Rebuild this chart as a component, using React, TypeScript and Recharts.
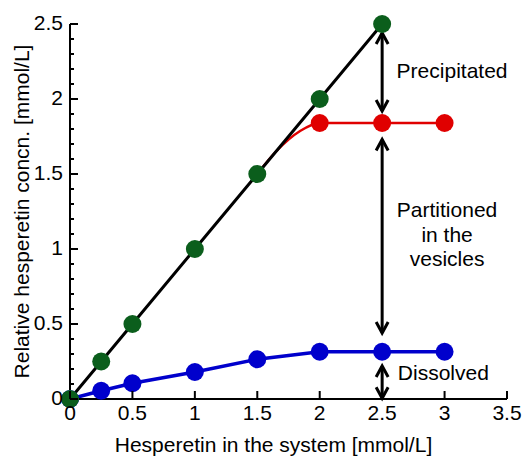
import React from 'react';
import { LineChart, Line, XAxis, YAxis, ReferenceDot } from 'recharts';

const FONT = '"Liberation Sans", Arial, Helvetica, sans-serif';
const GREEN = '#0b5e1c';
const RED = '#e00000';
const BLUE = '#0000cc';

// hesperetin added to the system [mmol/L] -> total relative concn.
const totalX = [0, 0.25, 0.5, 1, 1.5, 2, 2.5];
const totalY = [0, 0.25, 0.5, 1, 1.5, 2, 2.5];

// partitioned in vesicles (red), curve leaves the total line at 1.5
const partX = [1.5, 1.65, 1.84, 2, 2.5, 3];
const partY = [1.5, 1.65, 1.785, 1.84, 1.84, 1.84];
const partMarked = [false, false, false, true, true, true];

// dissolved (blue)
const dissX = [0, 0.25, 0.5, 1, 1.5, 2, 2.5, 3];
const dissY = [0, 0.055, 0.105, 0.18, 0.265, 0.315, 0.315, 0.315];

const xTicks = [0, 0.5, 1, 1.5, 2, 2.5, 3, 3.5];
const yTicks = [
  0, 0.1, 0.2, 0.3, 0.4, 0.5, 0.6, 0.7, 0.8, 0.9, 1, 1.1, 1.2, 1.3, 1.4, 1.5,
  1.6, 1.7, 1.8, 1.9, 2, 2.1, 2.2, 2.3, 2.4, 2.5,
];

// double arrows at x = 2.5 : [top, bottom]
const arrowX = 2.5;
const precipitatedArrow = [2.44, 1.92];
const partitionedArrow = [1.73, 0.44];
const dissolvedArrow = [0.22, 0.005];

const totalData = totalX.map((x, i) => ({ x, y: totalY[i] }));
const partData = partX.map((x, i) => ({ x, y: partY[i], m: partMarked[i] }));
const dissData = dissX.map((x, i) => ({ x, y: dissY[i] }));
const arrowData = (a: number[]) => [
  { x: arrowX, y: a[0], dir: 'up' },
  { x: arrowX, y: a[1], dir: 'down' },
];

const fmt = (v: number) => String(Math.round(v * 10) / 10);

const YTick = (props: any) => {
  const { x, y, payload } = props;
  const v = payload.value;
  const major = Math.abs(v * 2 - Math.round(v * 2)) < 1e-6;
  return (
    <g>
      <line x1={x} x2={x + (major ? 8 : 4)} y1={y} y2={y} stroke="#000" strokeWidth={2} />
      {major && (
        <text x={x - 7} y={y + 6} textAnchor="end" fontSize={21} fontFamily={FONT} fill="#000">
          {fmt(v)}
        </text>
      )}
    </g>
  );
};

const XTick = (props: any) => {
  const { x, y, payload } = props;
  return (
    <g>
      <line x1={x} x2={x} y1={y} y2={y - 8} stroke="#000" strokeWidth={2} />
      <text x={x} y={y + 21} textAnchor="middle" fontSize={21} fontFamily={FONT} fill="#000">
        {fmt(payload.value)}
      </text>
    </g>
  );
};

const ArrowHead = (props: any) => {
  const { cx, cy, payload, index } = props;
  if (cx == null || cy == null) return <g key={index} />;
  const s = payload.dir === 'up' ? 1 : -1;
  return (
    <polyline
      key={index}
      points={`${cx - 6},${cy + s * 11} ${cx},${cy} ${cx + 6},${cy + s * 11}`}
      fill="none"
      stroke="#000"
      strokeWidth={3}
    />
  );
};

const PartDot = (props: any) => {
  const { cx, cy, payload, index } = props;
  if (!payload.m) return <g key={index} />;
  return <circle key={index} cx={cx} cy={cy} r={9} fill={RED} />;
};

const note = (lines: string[]) => (p: any) => {
  const { viewBox } = p;
  const cx = viewBox.x + viewBox.width / 2;
  const cy = viewBox.y + viewBox.height / 2;
  return (
    <text x={cx} y={cy} textAnchor="middle" fontSize={21} fontFamily={FONT} fill="#000">
      {lines.map((l, i) => (
        <tspan key={i} x={cx} dy={i === 0 ? 0 : 24.5}>
          {l}
        </tspan>
      ))}
    </text>
  );
};

const xTitle = (p: any) => {
  const { viewBox } = p;
  return (
    <text x={viewBox.x + viewBox.width / 2 - 15} y={viewBox.y + 53} textAnchor="middle" fontSize={21} fontFamily={FONT} fill="#000">
      Hesperetin in the system [mmol/L]
    </text>
  );
};

const yTitle = (p: any) => {
  const { viewBox } = p;
  const cy = viewBox.y + viewBox.height / 2;
  return (
    <text
      transform={`translate(29, ${cy}) rotate(-90)`}
      textAnchor="middle"
      fontSize={21}
      fontFamily={FONT}
      fill="#000"
    >
      Relative hesperetin concn. [mmol/L]
    </text>
  );
};

export default function App() {
  return (
    <div style={{ position: 'absolute', left: 0, top: 0, background: '#fff' }}>
      <LineChart width={522} height={457} margin={{ top: 24, right: 15, left: 0, bottom: 0 }}>
        <XAxis
          dataKey="x"
          type="number"
          domain={[0, 3.5]}
          ticks={xTicks}
          interval={0}
          height={58}
          tickLine={false}
          tickSize={0}
          tickMargin={0}
          tick={<XTick />}
          axisLine={{ stroke: '#000', strokeWidth: 2 }}
          label={{ content: xTitle }}
        />
        <YAxis
          dataKey="y"
          type="number"
          domain={[0, 2.5]}
          ticks={yTicks}
          interval={0}
          width={70}
          tickLine={false}
          tickSize={0}
          tickMargin={0}
          tick={<YTick />}
          axisLine={{ stroke: '#000', strokeWidth: 2 }}
          label={{ content: yTitle }}
        />
        <Line data={arrowData(precipitatedArrow)} dataKey="y" stroke="#000" strokeWidth={3} dot={<ArrowHead />} activeDot={false} isAnimationActive={false} />
        <Line data={arrowData(partitionedArrow)} dataKey="y" stroke="#000" strokeWidth={3} dot={<ArrowHead />} activeDot={false} isAnimationActive={false} />
        <Line data={arrowData(dissolvedArrow)} dataKey="y" stroke="#000" strokeWidth={3} dot={<ArrowHead />} activeDot={false} isAnimationActive={false} />
        <Line
          data={dissData}
          dataKey="y"
          stroke={BLUE}
          strokeWidth={3.5}
          dot={{ r: 9, fill: BLUE, stroke: BLUE, strokeWidth: 0 }}
          activeDot={false}
          isAnimationActive={false}
        />
        <Line
          data={partData}
          dataKey="y"
          type="monotone"
          stroke={RED}
          strokeWidth={2.5}
          dot={<PartDot />}
          activeDot={false}
          isAnimationActive={false}
        />
        <Line
          data={totalData}
          dataKey="y"
          stroke="#000"
          strokeWidth={3}
          dot={{ r: 9, fill: GREEN, stroke: GREEN, strokeWidth: 0 }}
          activeDot={false}
          isAnimationActive={false}
        />
        <ReferenceDot x={3.06} y={2.14} r={0} stroke="none" label={{ content: note(['Precipitated']) }} />
        <ReferenceDot x={3.02} y={1.213} r={0} stroke="none" label={{ content: note(['Partitioned', 'in the', 'vesicles']) }} />
        <ReferenceDot x={2.99} y={0.127} r={0} stroke="none" label={{ content: note(['Dissolved']) }} />
      </LineChart>
    </div>
  );
}
